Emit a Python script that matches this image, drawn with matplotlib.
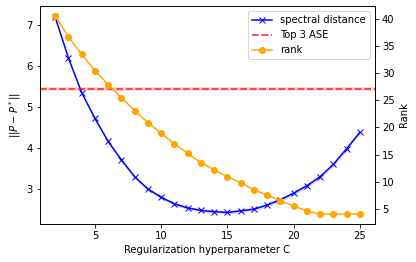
import matplotlib
matplotlib.use("Agg")
import matplotlib.pyplot as plt

# regularization values
C = [2, 3, 4, 5, 6, 7, 8, 9, 10, 11, 12, 13, 14, 15, 16, 17, 18, 19, 20, 21, 22, 23, 24, 25]

# spectral distance ||P - P*|| (mean) and spread
spec = [7.20, 6.20, 5.36, 4.73, 4.17, 3.72, 3.31, 3.01, 2.81, 2.65, 2.55, 2.49, 2.46, 2.44,
        2.48, 2.52, 2.62, 2.75, 2.91, 3.09, 3.31, 3.61, 3.99, 4.39]
spec_std = [0.03, 0.03, 0.03, 0.03, 0.03, 0.04, 0.04, 0.04, 0.04, 0.04, 0.04, 0.04, 0.04, 0.04,
            0.04, 0.04, 0.05, 0.05, 0.05, 0.05, 0.05, 0.05, 0.05, 0.06]

# rank
rank = [40.6, 36.7, 33.5, 30.5, 27.9, 25.5, 23.1, 20.9, 18.9, 17.0, 15.2, 13.5, 12.2, 10.9,
        9.8, 8.5, 7.5, 6.5, 5.5, 4.6, 4.0, 4.0, 4.0, 4.0]

top3_ase = 5.45
top3_std = 0.04

fig = plt.figure(figsize=(416/72, 262/72), dpi=72)
ax = fig.add_axes([40/416, 38/262, 335/416, 218/262])

lo = [m - s for m, s in zip(spec, spec_std)]
hi = [m + s for m, s in zip(spec, spec_std)]
l1, = ax.plot(C, spec, c="blue", marker="x", label="spectral distance")
ax.fill_between(C, lo, hi, color="blue", alpha=0.15, linewidth=0)
l2 = ax.axhline(top3_ase, c="red", ls="--", lw=1.8, alpha=0.75, label="Top 3 ASE")
ax.axhspan(top3_ase - top3_std, top3_ase + top3_std, color="red", alpha=0.15, linewidth=0)

ax.set_xlabel("Regularization hyperparameter C")
ax.set_ylabel("$||P - P^*||$")

ax2 = ax.twinx()
l3, = ax2.plot(C, rank, c="orange", marker="o", label="rank")
ax2.set_ylabel("Rank")

ax2.legend(handles=[l1, l2, l3], loc="upper right")

fig.savefig("out.png", dpi=72)
